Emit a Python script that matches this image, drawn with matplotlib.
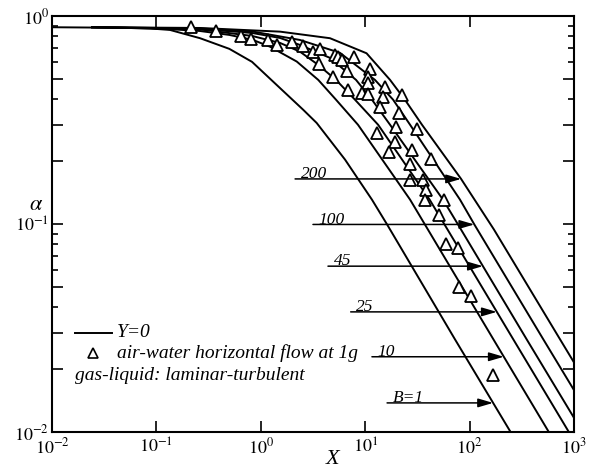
import matplotlib

matplotlib.use("Agg")  # headless backend
import matplotlib.pyplot as plt
import numpy as np
from matplotlib.ticker import FixedLocator, FuncFormatter, NullFormatter, NullLocator

plt.rcParams["font.family"] = ["Liberation Serif", "DejaVu Serif"]
plt.rcParams["mathtext.fontset"] = "stix"

# ---- Y=0 model curves, one per B value ------------------------------------------
X_B1 = [0.01, 0.045, 0.087, 0.135, 0.262, 0.50, 0.824, 1.53, 2.55, 3.43, 6.41, 11.6, 16.2, 72.4, 244]
A_B1 = [0.883, 0.878, 0.871, 0.857, 0.782, 0.695, 0.602, 0.450, 0.354, 0.306, 0.204, 0.131, 0.0995, 0.0279, 0.0101]

X_B10 = [0.0242, 0.087, 0.262, 0.50, 0.842, 1.225, 2.21, 3.55, 5.25, 8.53, 26.9, 169, 567]
A_B10 = [0.883, 0.876, 0.847, 0.811, 0.767, 0.712, 0.604, 0.493, 0.396, 0.300, 0.131, 0.0279, 0.0101]

X_B25 = [0.0242, 0.262, 0.824, 1.53, 2.37, 3.55, 5.25, 7.98, 13.3, 41.4, 262, 882]
A_B25 = [0.883, 0.862, 0.802, 0.742, 0.674, 0.582, 0.493, 0.396, 0.300, 0.131, 0.0279, 0.0101]

X_B45 = [0.0242, 0.262, 0.824, 1.53, 2.37, 4.60, 8.17, 11.6, 17.3, 55.6, 77.4, 352, 1000]
A_B45 = [0.883, 0.866, 0.829, 0.784, 0.726, 0.629, 0.493, 0.396, 0.300, 0.131, 0.0995, 0.0279, 0.0117]

X_B100 = [0.0242, 0.262, 0.824, 2.37, 5.74, 12.4, 18.5, 26.9, 80.9, 111, 508, 1000]
A_B100 = [0.883, 0.871, 0.843, 0.767, 0.665, 0.493, 0.396, 0.300, 0.131, 0.0995, 0.0279, 0.0159]

X_B200 = [0.0242, 0.262, 1.53, 4.60, 10.3, 17.3, 24.0, 35.0, 82.7, 171, 735, 1000]
A_B200 = [0.883, 0.876, 0.841, 0.782, 0.662, 0.493, 0.396, 0.300, 0.165, 0.0941, 0.0279, 0.0216]

CURVES = [(X_B1, A_B1), (X_B10, A_B10), (X_B25, A_B25),
          (X_B45, A_B45), (X_B100, A_B100), (X_B200, A_B200)]

# ---- air-water horizontal flow at 1g (measured void fraction) -------------------
X_DATA = [0.213, 0.372, 0.642, 0.800, 1.17, 1.43, 1.98, 2.54, 3.18, 3.69,
          3.61, 5.14, 5.52, 6.06, 7.73, 4.95, 6.65, 11.1, 10.7, 10.7,
          6.77, 9.26, 10.7, 15.5, 14.9, 22.5, 13.9, 21.2, 12.9, 19.7,
          31.3, 19.3, 17.0, 27.9, 26.9, 42.4, 26.9, 35.6, 38.2, 37.4,
          56.5, 51.3, 59.0, 76.6, 80.0, 103, 166]
A_DATA = [0.881, 0.845, 0.804, 0.778, 0.767, 0.726, 0.753, 0.714, 0.672, 0.696,
          0.589, 0.650, 0.638, 0.613, 0.634, 0.510, 0.541, 0.558, 0.507, 0.477,
          0.442, 0.427, 0.423, 0.458, 0.409, 0.416, 0.364, 0.341, 0.274, 0.292,
          0.287, 0.247, 0.223, 0.228, 0.194, 0.205, 0.163, 0.163, 0.146, 0.131,
          0.130, 0.110, 0.0797, 0.0767, 0.0498, 0.0449, 0.0188]

# ---- B labels with arrows pointing at each curve --------------------------------
ARROW_LABELS = ["B=1", "10", "25", "45", "100", "200"]
ARROW_X0 = [16.2, 11.6, 7.26, 4.40, 3.16, 2.13]
ARROW_A = [0.0138, 0.0230, 0.0378, 0.0627, 0.0995, 0.1647]

X_TICKS = [1e-2, 1e-1, 1e0, 1e1, 1e2, 1e3]
Y_MAJOR = [0.01, 0.02, 0.03, 0.05, 0.1, 0.2, 0.3, 0.5, 1.0]
Y_MINOR = [0.04, 0.06, 0.07, 0.08, 0.09, 0.4, 0.6, 0.7, 0.8, 0.9]


def decade_label(v, _pos):
    e = int(round(np.log10(v)))
    if abs(np.log10(v) - e) > 1e-6:
        return ""
    return rf"$10^{{{e}}}$"


fig = plt.figure(figsize=(5.97, 4.70), dpi=100)
ax = fig.add_axes([52 / 597, 1 - 432 / 470, 522 / 597, 416 / 470])

for xs, al in CURVES:
    ax.plot(xs, al, color="black", lw=1.4, zorder=2)

ax.plot(X_DATA, A_DATA, ls="none", marker="^", ms=8.8, mfc="white", mec="black",
        mew=1.3, zorder=3)

for lab, x0, a, (xs, al) in zip(ARROW_LABELS, ARROW_X0, ARROW_A, CURVES):
    # tip lands on the matching curve at the arrow's height
    x_tip = 10 ** np.interp(np.log10(a), np.log10(al[::-1]), np.log10(xs[::-1]))
    ax.annotate("", xy=(x_tip, a), xytext=(x0, a),
                arrowprops=dict(arrowstyle="-|>,head_length=0.75,head_width=0.22",
                                color="black", lw=1.1, shrinkA=0, shrinkB=0,
                                mutation_scale=12), zorder=4)
    ax.annotate(lab, xy=(x0, a), xytext=(4, 0.5), textcoords="offset points",
                ha="left", va="baseline", fontsize=12.5, style="italic", zorder=4)

ax.set_xscale("log")
ax.set_yscale("log")
ax.set_xlim(1e-2, 1e3)
ax.set_ylim(1e-2, 1.0)

ax.xaxis.set_major_locator(FixedLocator(X_TICKS))
ax.xaxis.set_major_formatter(FuncFormatter(decade_label))
ax.xaxis.set_minor_locator(NullLocator())
ax.yaxis.set_major_locator(FixedLocator(Y_MAJOR))
ax.yaxis.set_major_formatter(FuncFormatter(decade_label))
ax.yaxis.set_minor_locator(FixedLocator(Y_MINOR))
ax.yaxis.set_minor_formatter(NullFormatter())

ax.tick_params(which="both", direction="in", top=True, right=True, width=1.2,
               labelsize=13, colors="black")
ax.tick_params(which="major", length=8)
ax.tick_params(which="minor", length=4.5)
ax.tick_params(axis="x", pad=4)
ax.tick_params(axis="y", pad=2)
for sp in ax.spines.values():
    sp.set_linewidth(1.5)

fig.text(333 / 597, 1 - 459 / 470, "X", style="italic", fontsize=16,
         ha="center", va="center")
fig.text(36 / 597, 1 - 205 / 470, r"$\alpha$", fontsize=16, ha="center", va="center")

# legend block, drawn by hand in axes fraction
ax.plot([0.044, 0.115], [0.238, 0.238], color="black", lw=1.4, transform=ax.transAxes)
ax.text(0.1245, 0.238, "Y=0", style="italic", fontsize=14, ha="left", va="center",
        transform=ax.transAxes)
ax.plot([0.0785], [0.19], ls="none", marker="^", ms=7.5, mfc="white", mec="black",
        mew=1.2, transform=ax.transAxes, clip_on=False)
ax.text(0.1245, 0.19, "air-water horizontal flow at 1g", style="italic", fontsize=14,
        ha="left", va="center", transform=ax.transAxes)
ax.text(0.044, 0.137, "gas-liquid: laminar-turbulent", style="italic", fontsize=14,
        ha="left", va="center", transform=ax.transAxes)

fig.savefig("out.png", dpi=100, facecolor="white")
